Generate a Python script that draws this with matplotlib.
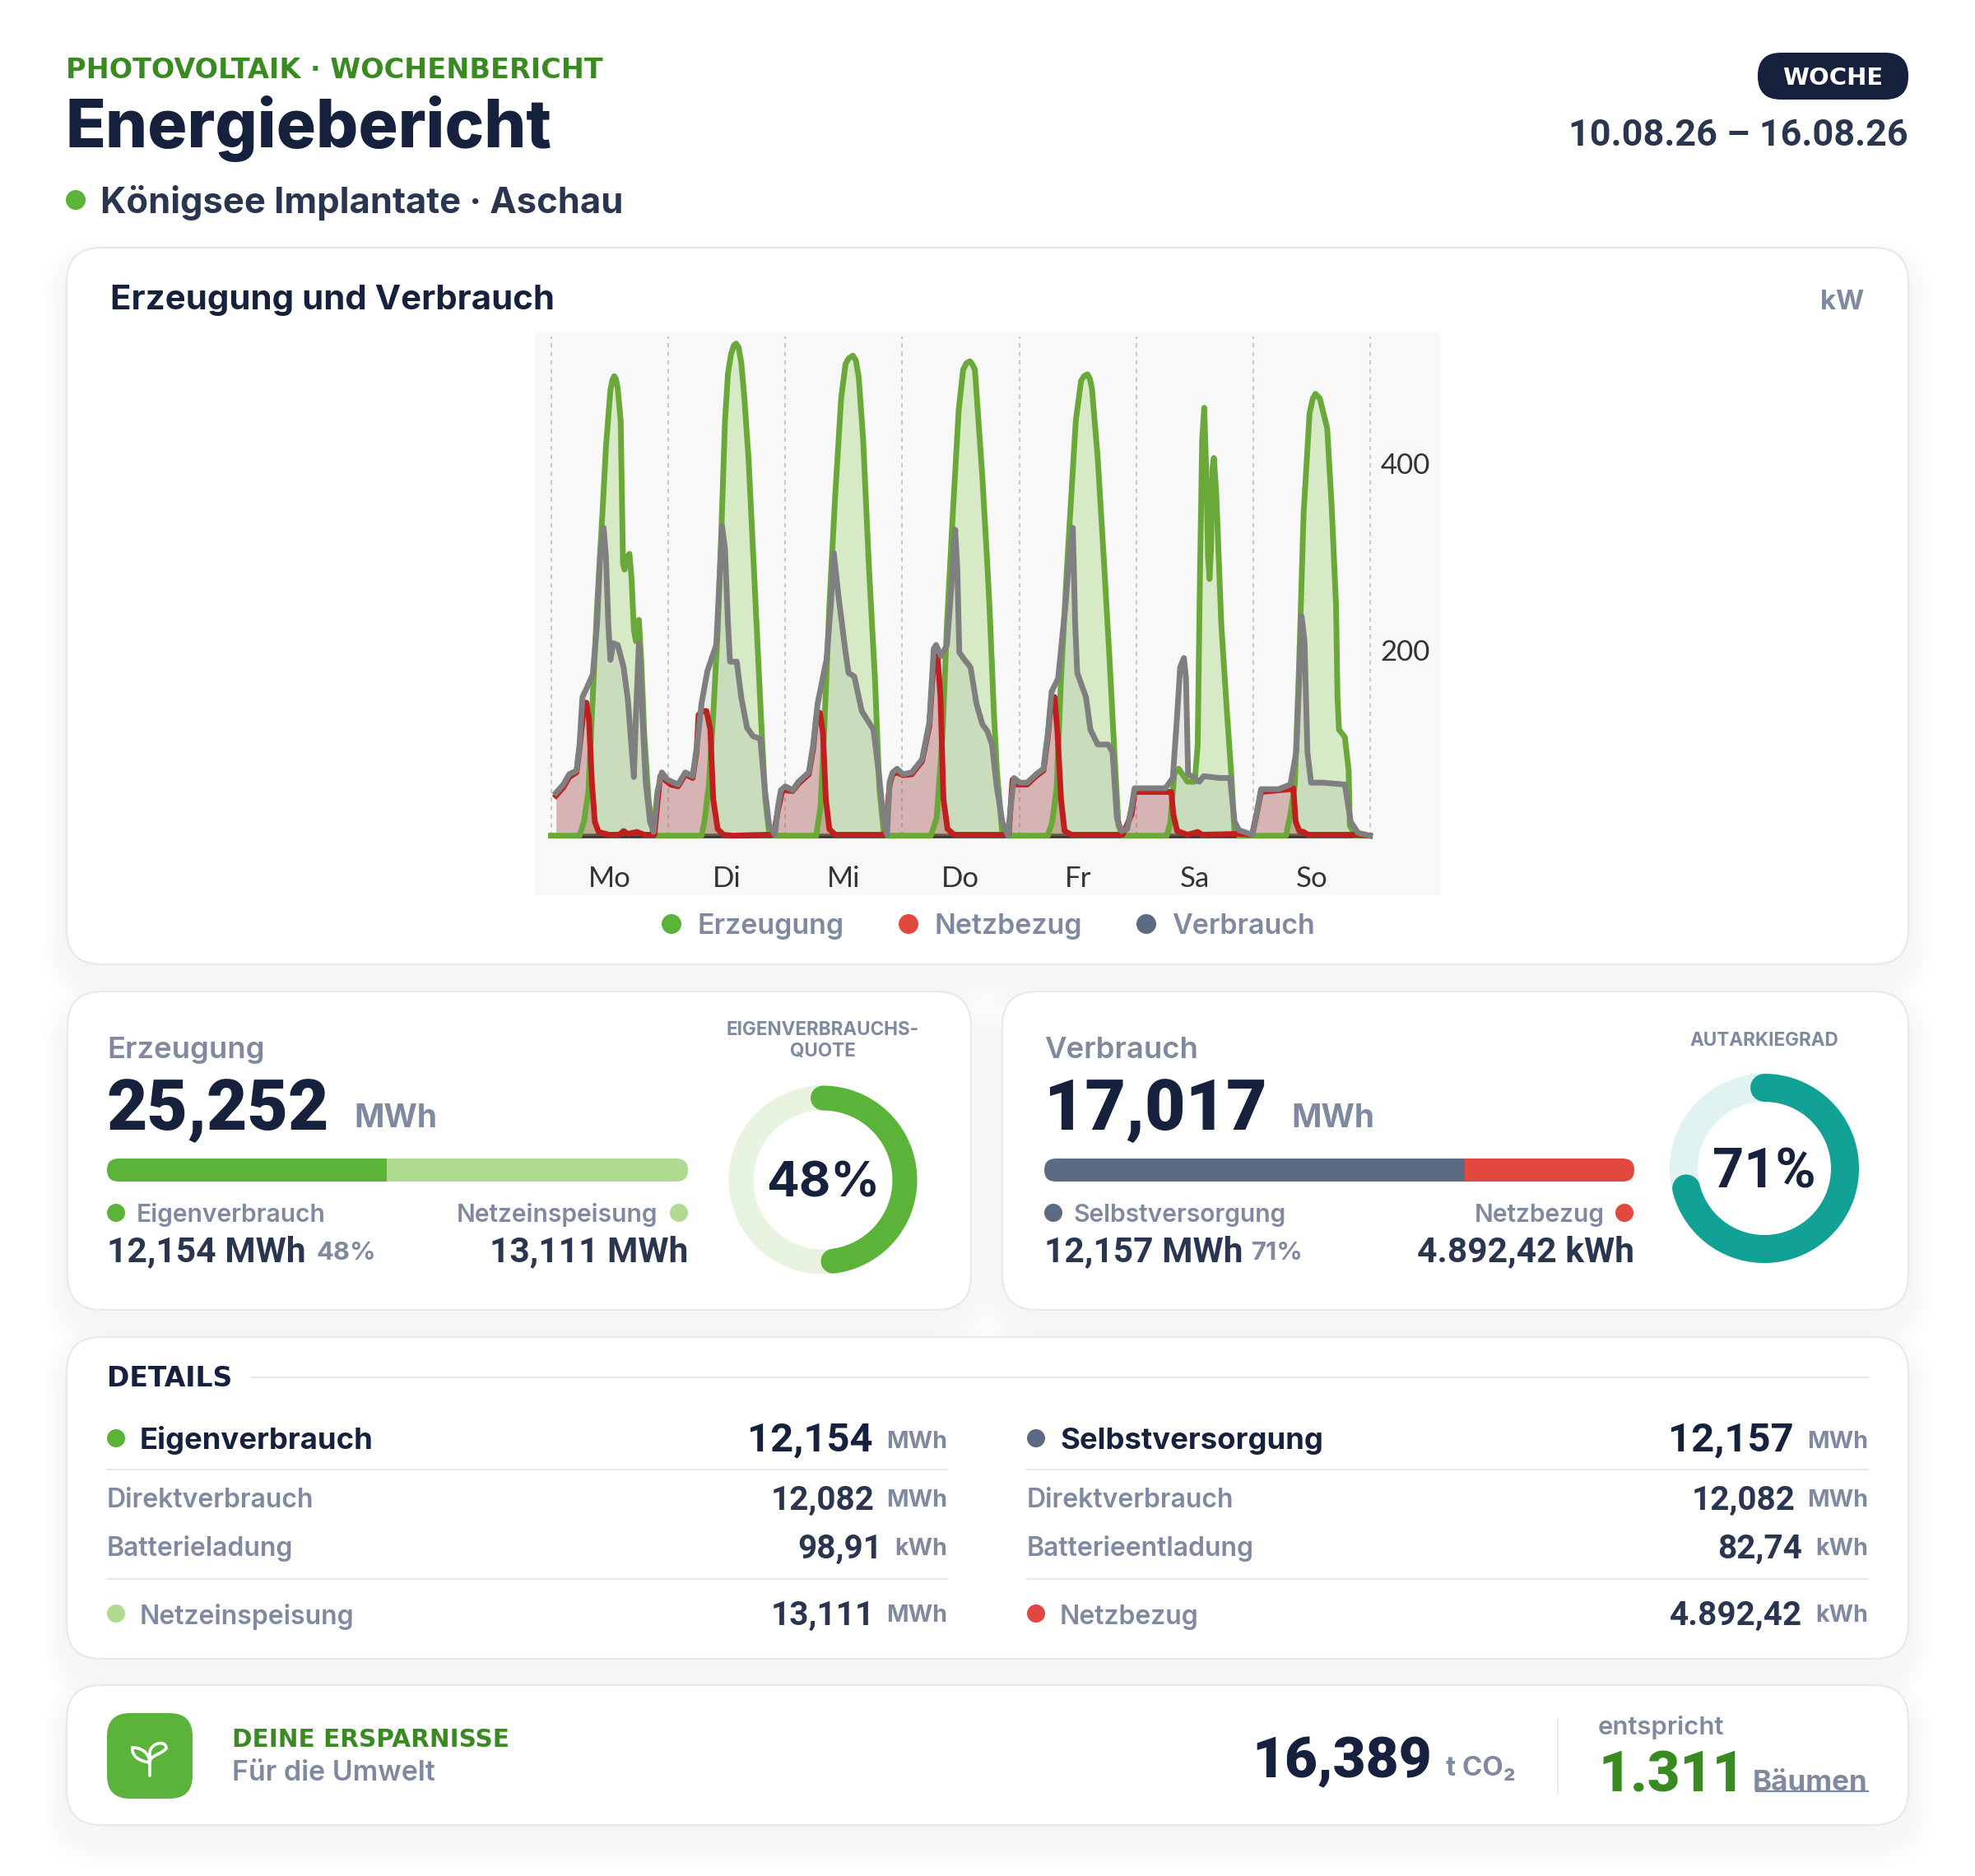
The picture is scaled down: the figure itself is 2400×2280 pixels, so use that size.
import numpy as np
import matplotlib
matplotlib.use("Agg")
import matplotlib.pyplot as plt
from matplotlib.patches import FancyBboxPatch, Circle, PathPatch
from matplotlib.path import Path
from matplotlib.transforms import Affine2D

plt.rcParams['font.family'] = ['Inter', 'DejaVu Sans']

####### data #######

days = ['Mo', 'Di', 'Mi', 'Do', 'Fr', 'Sa', 'So']
day_starts = [0, 24, 48, 72, 96, 120, 144, 168]
y_ticks = [200, 400]

erz_h = [0, 5.85, 6.75, 7.66, 8.56, 9.46, 10.55, 11.27, 12.18, 12.6, 12.96, 13.3, 13.68, 14.29, 14.47, 14.65, 14.77, 15.07, 15.67, 16.09, 16.52, 17.0, 17.42, 18.02, 18.5, 19.11, 20.01, 20.92, 21.8,
         30.86, 31.46, 32.37, 33.27, 34.18, 34.9, 35.68, 36.29, 36.89, 37.49, 37.97, 38.46, 39.0, 39.6, 40.5, 41.41, 42.31, 43.22, 43.94, 44.73, 45.63,
         54.37, 55.27, 55.99, 57.08, 58.29, 59.49, 60.4, 61.0, 61.9, 62.5, 63.1, 64.0, 65.2, 66.42, 67.33, 68.23, 68.84,
         77.88, 79.08, 80.29, 81.19, 82.4, 83.6, 84.51, 85.2, 85.9, 86.36, 86.92, 88.43, 89.5, 89.93, 90.83, 91.43, 92.53, 93.55,
         101.87, 102.77, 103.67, 104.58, 105.79, 106.69, 107.6, 108.69, 109.3, 110.0, 110.5, 110.91, 112.1, 113.32, 114.53, 115.43, 116.34, 117.24,
         126.28, 127.0, 127.79, 128.69, 130.5, 132.0, 132.6, 133.03, 133.51, 133.94, 134.42, 134.72, 135.02, 135.32, 135.62, 135.92, 136.41, 137.43, 138.63, 139.54, 140.15, 141.05,
         150.7, 151.6, 152.51, 153.42, 154.32, 155.53, 156.2, 156.74, 157.64, 159.15, 160.06, 160.96, 161.26, 161.56, 162.77, 163.55, 163.79, 164.88, 167.9]
erz_kw = [0, 0, 15, 47, 149, 248, 347, 418, 479, 490, 494, 491, 481, 446, 387, 323, 292, 286, 300, 303, 276, 221, 209, 232, 189, 110, 39, 3, 0,
          0, 15, 55, 130, 221, 323, 446, 497, 517, 527, 529, 525, 509, 474, 406, 308, 209, 110, 39, 3, 0,
          0, 31, 110, 248, 367, 470, 507, 513, 516, 511, 493, 426, 288, 169, 51, 3, 0,
          0, 19, 110, 228, 347, 458, 501, 508, 510, 507, 501, 387, 288, 244, 130, 70, 3, 0,
          0, 15, 51, 169, 288, 367, 446, 489, 494, 496, 491, 481, 406, 300, 189, 98, 11, 0,
          0, 15, 66, 72, 58, 58, 98, 268, 426, 460, 379, 300, 276, 308, 394, 406, 367, 228, 130, 62, 3, 0,
          0, 23, 55, 189, 347, 454, 470, 475, 470, 438, 355, 248, 149, 114, 106, 70, 11, 0, 0]

netz_h = [1.02, 2.53, 3.74, 5.24, 5.85, 6.57, 7.23, 7.78, 8.38, 8.98, 9.76, 11.87, 13.98, 14.89, 15.79, 17.6, 19.11, 21.2, 21.82, 22.42, 23.33, 24.53, 26.04, 27.55, 29.05, 29.84, 30.26, 31.16, 31.88, 32.67, 33.27, 34.18, 35.38, 37.2, 43.82, 45.63,
          46.53, 47.44, 49.55, 50.75, 52.86, 53.77, 54.37, 55.15, 55.76, 56.36, 57.08, 58.29, 68.54,
          69.44, 70.04, 70.95, 72.16, 73.97, 76.08, 77.58, 78.48, 79.26, 79.86, 80.47, 81.31, 82.7, 93.85,
          94.63, 95.54, 97.65, 99.46, 100.97, 101.87, 102.47, 103.25, 103.86, 104.58, 105.3, 106.69, 117.2,
          119.05, 119.65, 125.98, 127.18, 127.6, 128.39, 130.5, 132.6, 133.5, 141.3, 143.77,
          144.67, 145.58, 151.6, 152.21, 152.69, 153.42, 154.32, 155.2, 165.2, 167.9]
netz_kw = [43, 52, 63, 68, 94, 130, 143, 126, 58, 15, 4, 1, 1, 5, 2, 4, 1, 1, 35, 64, 60, 55, 53, 66, 62, 90, 130, 134, 134, 114, 39, 7, 1, 0, 1, 1,
           27, 49, 48, 56, 66, 94, 126, 132, 110, 39, 7, 1, 1,
           55, 66, 68, 65, 66, 80, 118, 189, 193, 149, 39, 7, 1, 1,
           60, 55, 55, 64, 70, 106, 141, 149, 110, 39, 5, 1, 1,
           23, 47, 47, 47, 23, 5, 1, 4, 1, 2, 1,
           23, 47, 50, 51, 15, 5, 4, 1, 1, 0]

verb_h = [1.02, 2.53, 3.74, 5.24, 5.85, 6.45, 7.35, 8.56, 9.46, 10.07, 10.79, 11.27, 11.75, 12.18, 12.78, 13.68, 14.89, 15.79, 16.4, 17.0, 17.42, 18.02, 18.63, 19.41, 20.31, 21.04, 21.82, 22.72, 23.93,
          26.04, 27.55, 29.05, 29.96, 30.86, 32.07, 33.88, 34.48, 35.08, 35.68, 36.29, 36.7, 38.1, 39.0, 40.2, 41.41, 42.92, 43.82, 44.73, 45.93, 46.53, 47.14,
          48.04, 49.55, 50.75, 52.86, 53.77, 54.67, 56.48, 57.38, 57.99, 58.89, 60.4, 61.0, 62.2, 63.71, 66.12, 67.33, 68.23, 68.9, 69.44, 70.04, 70.95,
          72.16, 73.97, 76.08, 77.58, 78.48, 78.96, 79.98, 81.19, 82.1, 82.88, 83.3, 83.72, 84.81, 86.02, 87.23, 88.43, 89.5, 90.42, 91.33, 92.53, 93.73, 94.33, 94.94,
          96.14, 97.65, 99.46, 100.97, 101.87, 102.65, 103.98, 105.49, 106.39, 107.0, 107.48, 107.9, 109.69, 110.6, 112.1, 114.22, 115.13, 116.03, 116.94, 118.14, 119.05, 119.65,
          121.46, 125.98, 127.49, 128.39, 129.0, 129.78, 130.2, 130.63, 131.72, 132.92, 133.83, 137.14, 139.24, 140.15, 141.05, 143.77,
          144.67, 145.58, 149.19, 151.6, 152.81, 153.42, 153.9, 154.5, 155.1, 155.83, 158.24, 162.77, 163.97, 165.48, 167.9]
verb_kw = [46, 55, 66, 70, 98, 149, 159, 173, 228, 300, 331, 300, 228, 189, 207, 205, 181, 145, 102, 63, 130, 207, 142, 58, 15, 4, 47, 68, 60,
           55, 68, 64, 98, 142, 177, 205, 268, 333, 308, 228, 187, 187, 149, 116, 107, 104, 51, 11, 1, 31, 49,
           53, 49, 58, 68, 98, 142, 189, 248, 304, 260, 197, 175, 171, 134, 114, 62, 15, 1, 58, 68, 72,
           66, 68, 82, 122, 201, 205, 193, 205, 268, 329, 288, 197, 189, 181, 142, 120, 112, 98, 55, 15, 0, 35, 62,
           57, 57, 66, 72, 110, 155, 169, 248, 308, 331, 228, 175, 149, 114, 98, 98, 90, 19, 5, 7, 31, 51,
           51, 51, 62, 130, 181, 191, 169, 66, 63, 58, 64, 62, 62, 15, 6, 1,
           23, 50, 50, 55, 90, 169, 236, 209, 90, 57, 57, 55, 15, 3, 0]

erz_split = [12.154, 13.111]
verb_split = [12.157, 4.89242]
eigen_quote = 48
autarkie = 71

####### colours #######

DARK = '#16213e'
NAVY = '#2a3550'
GREY = '#7f8aa0'
LINE = '#e6e9ee'
GREEN = '#5cb33a'
LGREEN = '#b0da8f'
DGREEN = '#3a8a22'
RED = '#e2483f'
SLATE = '#5d6b82'
TEAL = '#12a195'
NUM = 'Roboto'      # digits here are all the same width, like the reference
WIDE = 'DejaVu Sans'  # stands in for the tracked capitals

fig = plt.figure(figsize=(24, 22.8), dpi=100, facecolor='white')
bg = fig.add_axes([0, 0, 1, 1])
bg.set_xlim(0, 2400)
bg.set_ylim(2280, 0)
bg.axis('off')


def T(x, y, s, px, color=DARK, weight='normal', ha='left', **kw):
    # y is the middle of the capitals, so mixed sizes line up
    return bg.text(x, y + 0.364 * px, s, fontsize=px * 0.72, color=color, fontweight=weight,
                   ha=ha, va='baseline', **kw)


def dot(x, y, r, color):
    bg.add_patch(Circle((x, y), r, color=color, lw=0, zorder=3))


def card(x0, y0, x1, y1, r=42):
    for i in range(9, 0, -1):
        g = i * 3.5
        bg.add_patch(FancyBboxPatch((x0 - g, y0 - g + 20), x1 - x0 + 2 * g, y1 - y0 + 2 * g,
                                    boxstyle="round,pad=0,rounding_size=%f" % (r + g),
                                    fc='#25324f', ec='none', alpha=0.0022, zorder=1))
    bg.add_patch(FancyBboxPatch((x0, y0), x1 - x0, y1 - y0, boxstyle="round,pad=0,rounding_size=%f" % r,
                                fc='white', ec=LINE, lw=1.6, zorder=2))


def hbar(x0, x1, y0, y1, values, colors):
    a = fig.add_axes([x0 / 2400, 1 - y1 / 2280, (x1 - x0) / 2400, (y1 - y0) / 2280])
    a.set_xlim(0, sum(values))
    a.set_ylim(0, 1)
    a.axis('off')
    clip = FancyBboxPatch((0, 0), x1 - x0, y1 - y0, boxstyle="round,pad=0,rounding_size=%f" % ((y1 - y0) / 2),
                          transform=Affine2D().translate(x0, 2280 - y1))
    left = 0
    for v, c in zip(values, colors):
        bars = a.barh(0.5, v, height=1, left=left, color=c, lw=0)
        bars[0].set_clip_path(clip)
        left += v


def donut(cx, cy, radius, width, pct, color, track, label, **kw):
    size = 2 * (radius + width)
    a = fig.add_axes([(cx - size / 2) / 2400, 1 - (cy + size / 2) / 2280, size / 2400, size / 2280])
    a.set_xlim(-size / 2, size / 2)
    a.set_ylim(-size / 2, size / 2)
    a.axis('off')
    t = np.linspace(0, 2 * np.pi, 400)
    a.plot(radius * np.sin(t), radius * np.cos(t), color=track, lw=width * 0.72)
    t = np.linspace(0, 2 * np.pi * pct / 100, 300)
    a.plot(radius * np.sin(t), radius * np.cos(t), color=color, lw=width * 0.72, solid_capstyle='round')
    a.text(0, -5, label, color=DARK, ha='center', va='center', **kw)


####### header #######

T(80, 83, 'PHOTOVOLTAIK · WOCHENBERICHT', 33.5, DGREEN, 'bold', family=WIDE)
T(80, 150, 'Energiebericht', 80.5, DARK, 'heavy')
dot(92, 243, 12, GREEN)
T(122, 243, 'Königsee Implantate · Aschau', 43.5, NAVY, 'bold')
bg.add_patch(FancyBboxPatch((2136, 64), 183, 57, boxstyle="round,pad=0,rounding_size=28", fc=DARK, ec='none', zorder=3))
T(2227, 92, 'WOCHE', 29, 'white', 'bold', ha='center', zorder=4, family=WIDE)
T(2319, 161, '10.08.26 – 16.08.26', 45, NAVY, 'bold', ha='right', family=NUM)

####### main chart #######

card(81, 301, 2319, 1172)
T(134, 361, 'Erzeugung und Verbrauch', 42, DARK, 'bold')
T(2265, 364, 'kW', 33, GREY, 'bold', ha='right')

ax = fig.add_axes([650 / 2400, 1 - 1088 / 2280, 1100 / 2400, 684 / 2280], facecolor='#f8f8f8')
ax.set_xlim(-3.3, 182.3)
ax.set_ylim(-64, 541)
for s in ax.spines.values():
    s.set_visible(False)
ax.vlines(day_starts, 0, 537, color='#c9c9c9', lw=1.5, linestyles=(0, (2.5, 2.5)), zorder=1)
ax.plot([0, 168], [0, 0], color='#333333', lw=4, zorder=2)
ax.fill_between(erz_h, erz_kw, color='#86cc52', alpha=0.3, lw=0, zorder=2)
ax.fill_between(netz_h, netz_kw, color='#b02020', alpha=0.27, lw=0, zorder=2)
ax.fill_between(verb_h, verb_kw, color='#7f7f7f', alpha=0.13, lw=0, zorder=2)
ax.plot(erz_h, erz_kw, color='#6aa83a', lw=5, solid_joinstyle='round', zorder=3)
ax.plot(netz_h, netz_kw, color='#c01f1f', lw=5, solid_joinstyle='round', zorder=4)
ax.plot(verb_h, verb_kw, color='#7f7f7f', lw=5, solid_joinstyle='round', zorder=5)
ax.set_xticks([d + 12 for d in day_starts[:-1]])
ax.set_xticklabels(days, fontsize=25, color='#333333', family='Lato')
ax.tick_params(axis='x', length=0, pad=-26)
ax.yaxis.tick_right()
ax.set_yticks(y_ticks)
ax.set_yticklabels([str(v) for v in y_ticks], fontsize=25, color='#333333', family='Lato')
ax.tick_params(axis='y', length=0, pad=-52)

for x, col, name in [(816, GREEN, 'Erzeugung'), (1104, RED, 'Netzbezug'), (1393, SLATE, 'Verbrauch')]:
    dot(x, 1123, 12, col)
    T(x + 31, 1123, name, 34, GREY, 'semibold')

####### Erzeugung / Verbrauch cards #######

card(82, 1205, 1180, 1592)
T(130, 1273, 'Erzeugung', 36.5, GREY, 'semibold')
T(130, 1342, '25,252', 85.5, DARK, 'heavy', family=NUM)
T(430, 1356, 'MWh', 39, GREY, 'bold')
hbar(130, 836, 1408, 1436, erz_split, [GREEN, LGREEN])
dot(141, 1474, 11, GREEN)
T(166, 1474, 'Eigenverbrauch', 30, GREY, 'semibold')
dot(825, 1474, 11, LGREEN)
T(799, 1474, 'Netzeinspeisung', 30, GREY, 'semibold', ha='right')
T(130, 1518, '12,154 MWh', 42.5, NAVY, 'bold', family=NUM)
T(384, 1520, '48%', 31, GREY, 'bold')
T(836, 1518, '13,111 MWh', 42.5, NAVY, 'bold', ha='right', family=NUM)
T(1000, 1250, 'EIGENVERBRAUCHS-', 22.5, GREY, 'bold', ha='center')
T(1000, 1276, 'QUOTE', 22.5, GREY, 'bold', ha='center')
donut(1000, 1434, 99.5, 30, eigen_quote, GREEN, '#e8f4df', '48%', fontsize=42.5, fontweight='bold')

card(1218, 1205, 2319, 1592)
T(1269, 1273, 'Verbrauch', 36.5, GREY, 'semibold')
T(1269, 1342, '17,017', 85.5, DARK, 'heavy', family=NUM)
T(1569, 1356, 'MWh', 39, GREY, 'bold')
hbar(1269, 1986, 1408, 1436, verb_split, [SLATE, RED])
dot(1280, 1474, 11, SLATE)
T(1304, 1474, 'Selbstversorgung', 30, GREY, 'semibold')
dot(1974, 1474, 11, RED)
T(1950, 1474, 'Netzbezug', 30, GREY, 'semibold', ha='right')
T(1269, 1518, '12,157 MWh', 42.5, NAVY, 'bold', family=NUM)
T(1521, 1520, '71%', 31, GREY, 'bold')
T(1986, 1518, '4.892,42 kWh', 42.5, NAVY, 'bold', ha='right', family=NUM)
T(2144, 1263, 'AUTARKIEGRAD', 22.5, GREY, 'bold', ha='center')
donut(2144, 1420, 98, 34, autarkie, TEAL, '#e0f3f1', '71%', fontsize=48, fontweight='bold', family=NUM)

####### details #######

card(81, 1625, 2319, 2016)
T(130, 1673, 'DETAILS', 33, DARK, 'bold', family=WIDE)
bg.plot([306, 2270], [1674, 1674], color=LINE, lw=1.6, zorder=3)


def detail_col(x0, xval, xval2, x1, head, head_val, head_col, rows, foot, foot_val, foot_unit, foot_col):
    dot(x0 + 11, 1748, 11, head_col)
    T(x0 + 40, 1748, head, 36.5, DARK, 'bold')
    T(xval, 1746, head_val, 49, DARK, 'bold', ha='right', family=NUM)
    T(x1, 1750, 'MWh', 28.5, GREY, 'bold', ha='right')
    bg.plot([x0, x1], [1786, 1786], color=LINE, lw=1.6, zorder=3)
    for y, (name, val, unit) in zip([1820, 1879], rows):
        T(x0, y, name, 32, GREY, 'semibold')
        T(xval + 2 if unit == 'MWh' else xval2, y, val, 40.5, NAVY, 'bold', ha='right', family=NUM)
        T(x1, y + 1, unit, 28.5, GREY, 'bold', ha='right')
    bg.plot([x0, x1], [1919, 1919], color=LINE, lw=1.6, zorder=3)
    dot(x0 + 11, 1961, 11, foot_col)
    T(x0 + 40, 1962, foot, 32, GREY, 'semibold')
    T(xval + 2 if foot_unit == 'MWh' else xval2, 1960, foot_val, 40.5, NAVY, 'bold', ha='right', family=NUM)
    T(x1, 1961, foot_unit, 28.5, GREY, 'bold', ha='right')


detail_col(130, 1061, 1072, 1151, 'Eigenverbrauch', '12,154', GREEN,
           [('Direktverbrauch', '12,082', 'MWh'), ('Batterieladung', '98,91', 'kWh')],
           'Netzeinspeisung', '13,111', 'MWh', LGREEN)
detail_col(1248, 2180, 2190, 2270, 'Selbstversorgung', '12,157', SLATE,
           [('Direktverbrauch', '12,082', 'MWh'), ('Batterieentladung', '82,74', 'kWh')],
           'Netzbezug', '4.892,42', 'kWh', RED)

####### savings #######

card(81, 2048, 2319, 2218)
bg.add_patch(FancyBboxPatch((130, 2082), 104, 104, boxstyle="round,pad=0,rounding_size=28", fc=GREEN, ec='none', zorder=3))
sprout = Path([(182, 2158), (182, 2132),
               (182, 2130), (183, 2118), (202, 2114), (202, 2125), (195, 2133), (182, 2133),
               (182, 2142), (164, 2140), (160, 2130), (161, 2124), (172, 2124), (181, 2130), (182, 2142)],
              [Path.MOVETO, Path.LINETO,
               Path.MOVETO, Path.CURVE4, Path.CURVE4, Path.CURVE4, Path.CURVE4, Path.CURVE4,
               Path.MOVETO, Path.CURVE4, Path.CURVE4, Path.CURVE4, Path.CURVE4, Path.CURVE4, Path.CURVE4])
bg.add_patch(PathPatch(sprout, fc='none', ec='white', lw=2.6, capstyle='round', zorder=4))
T(282, 2112, 'DEINE ERSPARNISSE', 29.5, DGREEN, 'bold', family=WIDE)
T(282, 2152, 'Für die Umwelt', 34, GREY, 'semibold')
T(1740, 2135, '16,389', 69, DARK, 'heavy', ha='right', family=NUM)
T(1757, 2146, 't CO₂', 33, GREY, 'bold')
bg.plot([1893, 1893], [2090, 2180], color=LINE, lw=1.6, zorder=3)
T(1942, 2097, 'entspricht', 31, GREY, 'semibold')
T(1942, 2153, '1.311', 68, DGREEN, 'heavy', family=NUM)
T(2270, 2163, 'Bäumen', 35, GREY, 'bold', ha='right')
bg.plot([2134, 2270], [2177, 2177], color=GREY, lw=1.6, zorder=3)

fig.savefig('out.png', dpi=100)
